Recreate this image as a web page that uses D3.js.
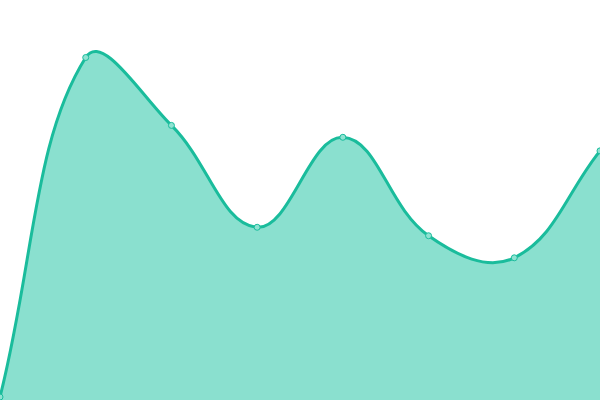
<!DOCTYPE html>
<html lang="en">
<head>
    <meta charset="UTF-8">
    <title>Area</title>
    <script src="https://cdn.jsdelivr.net/npm/d3@7"></script>
    <style>
        body { margin: 0; background: #fff; }
    </style>
</head>
<body>
<script>
    var width = 600,
        height = 400;
    // one value per point, evenly spaced along x
    var labels = ["1", "2", "3", "4", "5", "6", "7", "8"];
    var values = [0, 100, 80, 50, 76.5, 47.5, 41, 72.5];

    // spline with control points scaled by neighbour distances (tension 0.4)
    function SplineCurve(context, tension) {
        this._context = context;
        this._t = tension;
    }
    SplineCurve.prototype = {
        areaStart: function() { this._line = 0; },
        areaEnd: function() { this._line = NaN; },
        lineStart: function() { this._pts = []; },
        point: function(x, y) { this._pts.push([+x, +y]); },
        lineEnd: function() {
            var p = this._pts, n = p.length, c = this._context, t = this._t;
            if (n) {
                this._line ? c.lineTo(p[0][0], p[0][1]) : c.moveTo(p[0][0], p[0][1]);
                var cps = p.map(function(cur, i) {
                    var prev = p[Math.max(i - 1, 0)], next = p[Math.min(i + 1, n - 1)];
                    var d01 = Math.hypot(cur[0] - prev[0], cur[1] - prev[1]),
                        d12 = Math.hypot(next[0] - cur[0], next[1] - cur[1]);
                    var s01 = d01 / (d01 + d12), s12 = d12 / (d01 + d12);
                    if (isNaN(s01)) s01 = 0;
                    if (isNaN(s12)) s12 = 0;
                    var fa = t * s01, fb = t * s12;
                    return {
                        prev: [cur[0] - fa * (next[0] - prev[0]), cur[1] - fa * (next[1] - prev[1])],
                        next: [cur[0] + fb * (next[0] - prev[0]), cur[1] + fb * (next[1] - prev[1])]
                    };
                });
                for (var i = 1; i < n; i++) {
                    c.bezierCurveTo(cps[i - 1].next[0], cps[i - 1].next[1],
                        cps[i].prev[0], cps[i].prev[1], p[i][0], p[i][1]);
                }
            }
            if (this._line || (this._line !== 0 && n === 1)) c.closePath();
            this._line = 1 - this._line;
        }
    };
    var curve = function(context) { return new SplineCurve(context, 0.4); };

    var svg = d3.select("body").append("svg")
        .attr("width", width)
        .attr("height", height);

    var x = d3.scalePoint()
        .domain(labels)
        .range([0, width]);
    var y = d3.scaleLinear()
        .domain([0, 100])
        .range([397, 57.5]);

    var area = d3.area()
        .x(function(d, i) { return x(labels[i]); })
        .y0(height)
        .y1(function(d) { return y(d); })
        .curve(curve);

    var line = d3.line()
        .x(function(d, i) { return x(labels[i]); })
        .y(function(d) { return y(d); })
        .curve(curve);

    svg.append("path")
        .datum(values)
        .attr("fill", "#8ae0cf")
        .attr("d", area);

    svg.append("path")
        .datum(values)
        .attr("fill", "none")
        .attr("stroke", "#1abc9c")
        .attr("stroke-width", 3)
        .attr("d", line);

    svg.selectAll("circle")
        .data(values)
        .enter()
        .append("circle")
        .attr("cx", function(d, i) { return x(labels[i]); })
        .attr("cy", function(d) { return y(d); })
        .attr("r", 3)
        .attr("fill", "#8fe3d2")
        .attr("stroke", "#1abc9c")
        .attr("stroke-width", 1);
</script>
</body>
</html>
